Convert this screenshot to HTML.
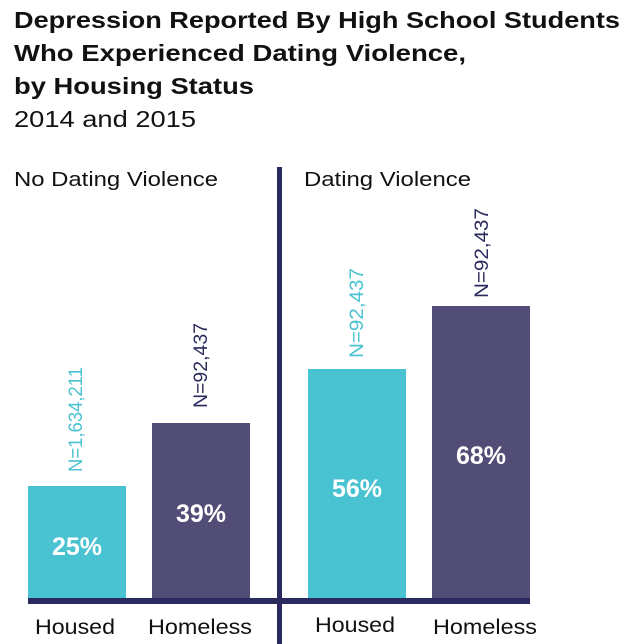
<!DOCTYPE html>
<html><head><meta charset="utf-8"><style>
html,body{margin:0;padding:0;background:#fff;}
svg{display:block;}
</style></head><body>
<svg width="626" height="644" xmlns="http://www.w3.org/2000/svg" font-family="Liberation Sans, sans-serif">
<g font-weight="bold" font-size="23" fill="#111">
<text x="14" y="28" textLength="606" lengthAdjust="spacingAndGlyphs">Depression Reported By High School Students</text>
<text x="14" y="61" textLength="452" lengthAdjust="spacingAndGlyphs">Who Experienced Dating Violence,</text>
<text x="14" y="94" textLength="240" lengthAdjust="spacingAndGlyphs">by Housing Status</text>
</g>
<text x="14" y="127" font-size="23" fill="#111" textLength="182" lengthAdjust="spacingAndGlyphs">2014 and 2015</text>
<text x="14" y="186" font-size="20" fill="#111" textLength="204" lengthAdjust="spacingAndGlyphs">No Dating Violence</text>
<text x="304" y="186" font-size="20" fill="#111" textLength="167" lengthAdjust="spacingAndGlyphs">Dating Violence</text>
<rect x="277" y="167" width="5" height="477" fill="#2a2a5e"/>
<rect x="28" y="486" width="98" height="113" fill="#49c2d1"/>
<rect x="152" y="423" width="98" height="176" fill="#524d77"/>
<rect x="308" y="369" width="98" height="230" fill="#49c2d1"/>
<rect x="432" y="306" width="98" height="293" fill="#524d77"/>
<rect x="28" y="598" width="502" height="6" fill="#2a2a5e"/>
<g font-size="19">
<text transform="translate(82,472) rotate(-90)" fill="#49c2d1" textLength="105" lengthAdjust="spacingAndGlyphs">N=1,634,211</text>
<text transform="translate(207,408) rotate(-90)" fill="#2a2a5e" textLength="85" lengthAdjust="spacingAndGlyphs">N=92,437</text>
<text transform="translate(363,358) rotate(-90)" fill="#49c2d1" textLength="90" lengthAdjust="spacingAndGlyphs">N=92,437</text>
<text transform="translate(488,298) rotate(-90)" fill="#2a2a5e" textLength="90" lengthAdjust="spacingAndGlyphs">N=92,437</text>
</g>
<g font-weight="bold" font-size="25" fill="#fff" text-anchor="middle">
<text x="77" y="555">25%</text>
<text x="201" y="522">39%</text>
<text x="357" y="497">56%</text>
<text x="481" y="464">68%</text>
</g>
<g font-size="21" fill="#111">
<text x="35" y="634" textLength="80" lengthAdjust="spacingAndGlyphs">Housed</text>
<text x="148" y="634" textLength="104" lengthAdjust="spacingAndGlyphs">Homeless</text>
<text x="315" y="632" textLength="80" lengthAdjust="spacingAndGlyphs">Housed</text>
<text x="433" y="634" textLength="104" lengthAdjust="spacingAndGlyphs">Homeless</text>
</g>
</svg>
</body></html>
